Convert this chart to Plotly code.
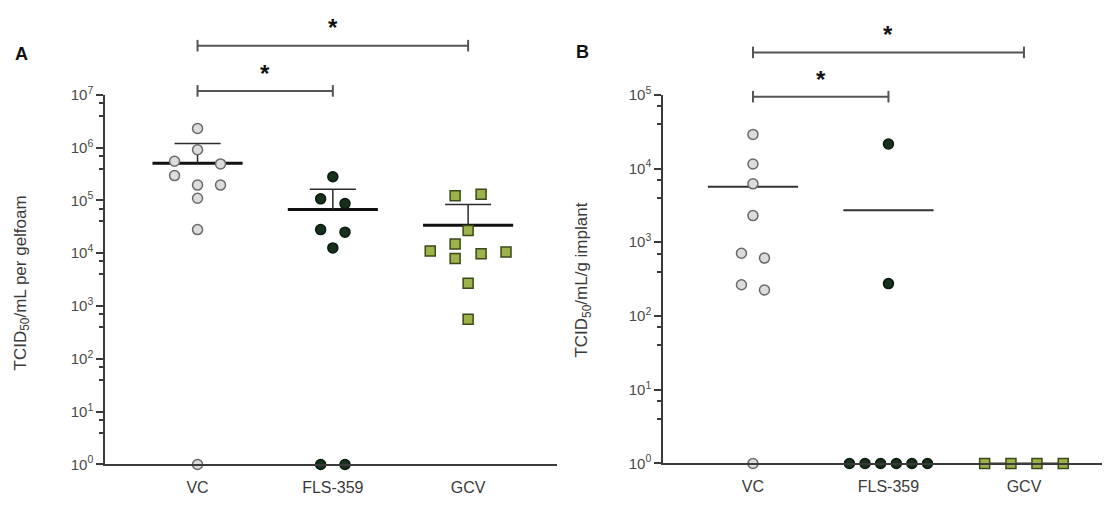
import numpy as np
import plotly.graph_objects as go

# ---------------- data ----------------
categories = ["VC", "FLS-359", "GCV"]

# Panel A: TCID50/mL per gelfoam
a_vc = [2.3e6, 9.1e5, 5.5e5, 4.9e5, 2.95e5, 1.95e5, 1.95e5, 1.1e5, 2.8e4, 1]
a_fls = [2.8e5, 1.07e5, 8.7e4, 2.8e4, 2.5e4, 1.26e4, 1, 1]
a_gcv = [1.23e5, 1.3e5, 2.7e4, 1.5e4, 1.1e4, 7.9e3, 9.8e3, 1.05e4, 2.7e3, 560]

# Panel B: TCID50/mL/g implant
b_vc = [2.9e4, 1.15e4, 6.2e3, 2.3e3, 710, 610, 265, 225, 1]
b_fls = [2.15e4, 275, 1, 1, 1, 1, 1, 1]
b_gcv = [1, 1, 1, 1]

a_tickvals = [1e0, 1e1, 1e2, 1e3, 1e4, 1e5, 1e6, 1e7]
a_ticktext = ["10<sup>0</sup>", "10<sup>1</sup>", "10<sup>2</sup>", "10<sup>3</sup>",
              "10<sup>4</sup>", "10<sup>5</sup>", "10<sup>6</sup>", "10<sup>7</sup>"]
b_tickvals = [1e0, 1e1, 1e2, 1e3, 1e4, 1e5]
b_ticktext = ["10<sup>0</sup>", "10<sup>1</sup>", "10<sup>2</sup>", "10<sup>3</sup>",
              "10<sup>4</sup>", "10<sup>5</sup>"]

# significance comparisons: (panel, group i, group j, label)
comparisons = [("A", 0, 2, "*"), ("A", 0, 1, "*"), ("B", 0, 2, "*"), ("B", 0, 1, "*")]

# ---------------- layout constants (scatter offsets in category units) ----------------
a_vc_dx = [0, 0, -0.17, 0.17, -0.17, 0.17, 0, 0, 0, 0]
a_fls_dx = [0, -0.09, 0.09, -0.09, 0.09, 0, -0.09, 0.09]
a_gcv_dx = [-0.096, 0.096, 0, -0.096, -0.28, -0.096, 0.096, 0.28, 0, 0]
b_vc_dx = [0, 0, 0, 0, -0.085, 0.085, -0.085, 0.085, 0]
b_fls_dx = [0, 0, -0.288, -0.173, -0.058, 0.058, 0.173, 0.288]
b_gcv_dx = [-0.29, -0.096, 0.096, 0.29]

W, H = 1106, 510
FONT = "Arial, Liberation Sans, sans-serif"
TXT = "#3a3a3a"

styles = [
    dict(symbol="circle", size=10, color="#dcdcdc", line=dict(color="#6a6a6a", width=1.5)),
    dict(symbol="circle", size=10, color="#15301b", line=dict(color="#0b1a0e", width=1.5)),
    dict(symbol="square", size=10, color="#9db34a", line=dict(color="#3a4a1a", width=1.5)),
]

fig = go.Figure()


def add_panel(groups, offsets, xa, ya, show_sd, mean_width, mean_color):
    for i, (vals, dx) in enumerate(zip(groups, offsets)):
        v = np.array(vals, dtype=float)
        m = v.mean()
        sd = v.std(ddof=1)
        fig.add_trace(go.Scatter(x=[i - 0.333, i + 0.333], y=[m, m], mode="lines",
                                 line=dict(color=mean_color, width=mean_width),
                                 xaxis=xa, yaxis=ya, showlegend=False, hoverinfo="skip",
                                 cliponaxis=False))
        if show_sd:
            fig.add_trace(go.Scatter(x=[i, i, None, i - 0.17, i + 0.17],
                                     y=[m, m + sd, None, m + sd, m + sd], mode="lines",
                                     line=dict(color="#2a2a2a", width=1.5),
                                     xaxis=xa, yaxis=ya, showlegend=False, hoverinfo="skip",
                                     cliponaxis=False))
    for i, (vals, dx) in enumerate(zip(groups, offsets)):
        fig.add_trace(go.Scatter(x=[i + d for d in dx], y=vals, mode="markers",
                                 marker=styles[i], xaxis=xa, yaxis=ya, showlegend=False,
                                 name=categories[i], cliponaxis=False))


add_panel([a_vc, a_fls, a_gcv], [a_vc_dx, a_fls_dx, a_gcv_dx], "x", "y", True, 3, "#111111")
add_panel([b_vc, b_fls, b_gcv], [b_vc_dx, b_fls_dx, b_gcv_dx], "x2", "y2", False, 2, "#333333")


def px_x(p):
    return p / W


def px_y(p):
    return 1 - p / H


axis_common = dict(showline=True, linecolor="#3a3a3a", linewidth=1.5, showgrid=False,
                   zeroline=False, mirror=False)

xcommon = dict(axis_common, tickvals=[0, 1, 2], ticktext=categories, ticks="outside",
               ticklen=8, tickcolor="rgba(0,0,0,0)",
               tickfont=dict(family=FONT, size=16, color=TXT))


def minor_vals(n):
    out = []
    for k in range(n):
        out += [4 * 10 ** k, 7 * 10 ** k]
    return out


ycommon = dict(axis_common, type="log", ticks="outside", ticklen=7, tickwidth=1.5,
               tickcolor="#3a3a3a", tickfont=dict(family=FONT, size=15, color="#4a4a4a"))

fig.update_layout(
    width=W, height=H, margin=dict(l=0, r=0, t=0, b=0),
    paper_bgcolor="white", plot_bgcolor="white",
    font=dict(family=FONT),
    xaxis=dict(xcommon, domain=[px_x(105), px_x(557)], range=[-0.684, 2.657], anchor="y"),
    yaxis=dict(ycommon, domain=[px_y(471), px_y(87)], range=[0, 7], anchor="x",
               tickvals=a_tickvals, ticktext=a_ticktext,
               minor=dict(tickvals=minor_vals(7), ticks="outside", ticklen=4,
                          tickcolor="#3a3a3a", tickwidth=1.5)),
    xaxis2=dict(xcommon, domain=[px_x(663), px_x(1102)], range=[-0.664, 2.576], anchor="y2"),
    yaxis2=dict(ycommon, domain=[px_y(470), px_y(87)], range=[0, 5], anchor="x2",
                tickvals=b_tickvals, ticktext=b_ticktext,
                minor=dict(tickvals=minor_vals(5), ticks="outside", ticklen=4,
                           tickcolor="#3a3a3a", tickwidth=1.5)),
)

# significance brackets (pixel rows: bracket line, star centre)
bracket_rows = {("A", 0, 2): (36, 15), ("A", 0, 1): (83, 63),
                ("B", 0, 2): (43, 22), ("B", 0, 1): (89, 69)}
shapes = []
annotations = []
for panel, i, j, lab in comparisons:
    xr = "x" if panel == "A" else "x2"
    yb, ys = bracket_rows[(panel, i, j)]
    line = dict(color="#555555", width=2)
    shapes.append(dict(type="line", xref=xr, yref="paper", x0=i, x1=j,
                       y0=px_y(yb), y1=px_y(yb), line=line))
    for xe in (i, j):
        shapes.append(dict(type="line", xref=xr, yref="paper", x0=xe, x1=xe,
                           y0=px_y(yb - 6), y1=px_y(yb + 6), line=line))
    annotations.append(dict(xref=xr, yref="paper", x=(i + j) / 2, y=px_y(ys + 2),
                            text="<b>" + lab + "</b>", showarrow=False,
                            font=dict(family=FONT, size=24, color="#111111"),
                            xanchor="center", yanchor="middle"))

annotations += [
    dict(xref="paper", yref="paper", x=px_x(21), y=px_y(45), text="<b>A</b>",
         showarrow=False, font=dict(family=FONT, size=18, color="#111111"),
         xanchor="center", yanchor="middle"),
    dict(xref="paper", yref="paper", x=px_x(582), y=px_y(43), text="<b>B</b>",
         showarrow=False, font=dict(family=FONT, size=18, color="#111111"),
         xanchor="center", yanchor="middle"),
    dict(xref="paper", yref="paper", x=px_x(22), y=px_y(283),
         text="TCID<sub>50</sub>/mL per gelfoam", textangle=-90, showarrow=False,
         font=dict(family=FONT, size=17, color=TXT),
         xanchor="center", yanchor="middle"),
    dict(xref="paper", yref="paper", x=px_x(583), y=px_y(280),
         text="TCID<sub>50</sub>/mL/g implant", textangle=-90, showarrow=False,
         font=dict(family=FONT, size=17, color=TXT),
         xanchor="center", yanchor="middle"),
]

fig.update_layout(shapes=shapes, annotations=annotations)
fig.write_html("out.html")
